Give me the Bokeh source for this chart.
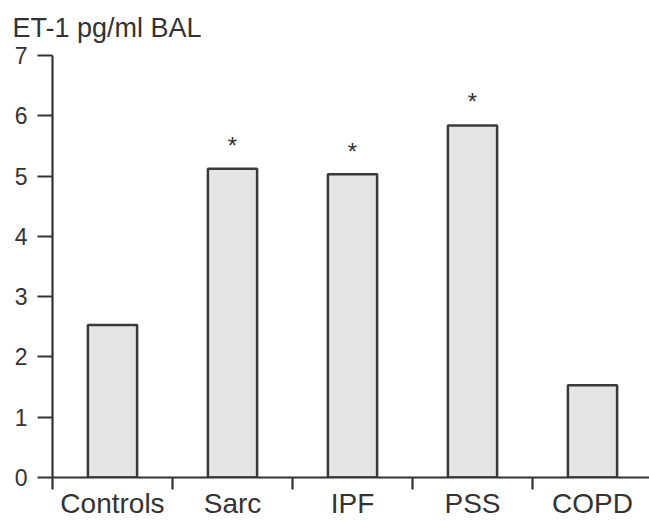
from bokeh.plotting import figure
from bokeh.models import Range1d, FixedTicker, ColumnDataSource
from bokeh.core.properties import value
from bokeh.embed import file_html
from bokeh.resources import INLINE

categories = ["Controls", "Sarc", "IPF", "PSS", "COPD"]
values = [2.53, 5.12, 5.03, 5.84, 1.53]
marks = ["", "*", "*", "*", ""]
mark_y = [0, 5.55, 5.46, 6.28, 0]
y_ticks = [0, 1, 2, 3, 4, 5, 6, 7]
title_text = "ET-1 pg/ml BAL"

FONT = "Liberation Sans"
INK = "#333333"

W, H = 649, 521
LEFT, TOP, BOTTOM = 52, 55, 44
CAT_PX = 120

xs = [i + 0.5 for i in range(len(categories))]

p = figure(width=W, height=H, output_backend="svg", toolbar_location=None,
           x_range=Range1d(0, (W - LEFT) / CAT_PX), y_range=Range1d(0, 7),
           min_border_left=LEFT, min_border_right=0, min_border_top=TOP,
           min_border_bottom=BOTTOM)
p.outline_line_color = None
p.grid.visible = False
p.background_fill_color = "white"
p.border_fill_color = "white"

p.title.text = title_text
p.title.text_font = FONT
p.title.text_font_size = "27px"
p.title.text_font_style = "normal"
p.title.text_color = INK
p.title.align = "left"
p.title.vertical_align = "top"
p.title.text_line_height = 0.8
p.title.offset = -40
p.title.standoff = 22

src = ColumnDataSource(dict(x=xs, top=values))
p.vbar(x="x", top="top", width=0.41, bottom=0, source=src,
       fill_color="#e5e5e5", line_color="#3a3a3a", line_width=2.5)

msrc = ColumnDataSource(dict(x=[xs[i] for i in range(len(marks)) if marks[i]],
                             y=[mark_y[i] for i in range(len(marks)) if marks[i]],
                             t=[m for m in marks if m]))
p.text(x="x", y="y", text="t", source=msrc, text_font=value(FONT),
       text_font_size="24px", text_align="center", text_baseline="middle",
       text_color=INK, y_offset=3)

# y axis
ya = p.yaxis[0]
ya.ticker = FixedTicker(ticks=y_ticks, minor_ticks=[])
ya.axis_line_color = INK
ya.axis_line_width = 2.2
ya.major_tick_line_color = INK
ya.major_tick_line_width = 2.2
ya.major_tick_out = 15
ya.major_tick_in = 0
ya.minor_tick_line_color = None
ya.major_label_standoff = 10
ya.major_label_text_font = FONT
ya.major_label_text_font_size = "23px"
ya.major_label_text_color = INK

# x axis: labels at category centres, tick marks at category boundaries
xa = p.xaxis[0]
xa.ticker = FixedTicker(ticks=xs, minor_ticks=[0, 1, 2, 3, 4])
xa.major_label_overrides = {x: c for x, c in zip(xs, categories)}
xa.axis_line_color = INK
xa.axis_line_width = 2.2
xa.major_tick_line_color = None
xa.major_tick_out = 0
xa.major_tick_in = 0
xa.minor_tick_line_color = INK
xa.minor_tick_line_width = 2.2
xa.minor_tick_out = 12
xa.minor_tick_in = 0
xa.major_label_standoff = -2
xa.major_label_text_font = FONT
xa.major_label_text_font_size = "28px"
xa.major_label_text_color = INK

open("out.html", "w").write(file_html(p, INLINE))
